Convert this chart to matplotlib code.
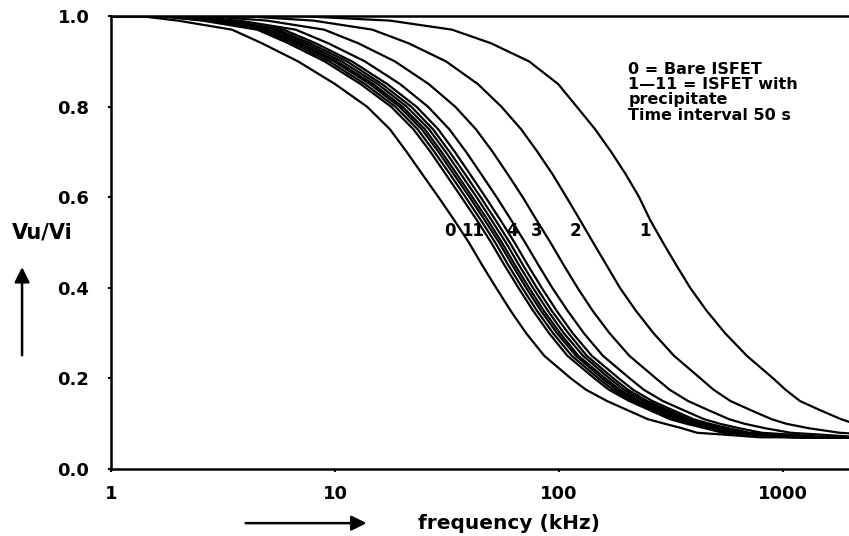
import numpy as np
import matplotlib.pyplot as plt
from matplotlib.patches import FancyArrowPatch

# response levels Vu/Vi (shared by all curves)
levels = [1.0, 0.99, 0.97, 0.94, 0.90, 0.85, 0.80, 0.75, 0.70, 0.65,
          0.60, 0.55, 0.50, 0.45, 0.40, 0.35, 0.30, 0.25, 0.20, 0.175,
          0.15, 0.13, 0.11, 0.10, 0.09, 0.08, 0.075, 0.07]

# frequency (kHz) where each curve reaches the level above
freq_0 = [1.35, 1.99, 3.47, 4.72, 6.84, 10.0, 13.9, 17.6, 20.9, 24.6,
          29.0, 34.0, 39.6, 45.4, 52.4, 60.7, 71.3, 85.9, 113, 132,
          164, 202, 249, 296, 354, 413, 580, 789]
freq_1 = [6.98, 17.6, 33.3, 49.7, 73.5, 99.1, 120, 145, 171, 199,
          228, 255, 291, 334, 385, 455, 551, 689, 904, 1026,
          1191, 1462, 1816, 2084, 2710, 4090, 6209, 9290]
freq_2 = [3.86, 8.02, 14.7, 21.3, 31.3, 43.4, 55.3, 67.8, 80.2, 93.8,
          108, 124, 142, 163, 187, 220, 264, 326, 428, 490,
          583, 717, 889, 1032, 1303, 1791, 2642, 3820]
freq_3 = [2.69, 4.97, 8.95, 12.7, 18.5, 26.2, 34.4, 42.6, 50.6, 59.2,
          68.9, 79.3, 91.6, 105, 121, 141, 168, 206, 271, 312,
          377, 464, 574, 672, 832, 1081, 1570, 2223]
freq_4 = [2.17, 3.74, 6.68, 9.33, 13.6, 19.5, 26.0, 32.4, 38.5, 45.1,
          52.7, 61.1, 70.6, 81.0, 93.3, 109, 129, 157, 207, 239,
          291, 359, 444, 521, 638, 804, 1153, 1614]
freq_5 = [1.98, 3.32, 5.90, 8.20, 11.9, 17.1, 23.1, 28.9, 34.3, 40.2,
          47.0, 54.7, 63.3, 72.6, 83.7, 97.4, 115, 140, 185, 214,
          261, 322, 398, 468, 571, 708, 1012, 1409]
freq_6 = [1.90, 3.15, 5.57, 7.74, 11.3, 16.2, 21.9, 27.4, 32.5, 38.2,
          44.7, 52.0, 60.3, 69.1, 79.6, 92.6, 110, 133, 175, 203,
          248, 306, 378, 446, 543, 668, 953, 1324]
freq_7 = [1.84, 3.01, 5.33, 7.38, 10.7, 15.5, 20.9, 26.3, 31.2, 36.6,
          42.9, 49.9, 57.9, 66.3, 76.5, 89.0, 105, 128, 168, 195,
          239, 295, 364, 429, 521, 638, 910, 1261]
freq_8 = [1.78, 2.88, 5.09, 7.05, 10.2, 14.8, 20.0, 25.2, 29.9, 35.1,
          41.1, 48.0, 55.6, 63.7, 73.5, 85.4, 101, 122, 161, 187,
          229, 283, 350, 412, 500, 610, 867, 1200]
freq_9 = [1.74, 2.79, 4.92, 6.79, 9.89, 14.3, 19.4, 24.4, 29.0, 34.0,
          39.9, 46.5, 54.0, 61.9, 71.3, 82.9, 97.9, 119, 156, 181,
          223, 275, 340, 400, 485, 589, 838, 1156]
freq_10 = [1.68, 2.67, 4.71, 6.49, 9.42, 13.6, 18.6, 23.4, 27.8, 32.7,
           38.3, 44.7, 51.9, 59.4, 68.5, 79.6, 94.0, 114, 150, 174,
           214, 264, 326, 385, 466, 562, 798, 1102]
freq_11 = [1.63, 2.56, 4.50, 6.19, 8.99, 13.0, 17.8, 22.4, 26.7, 31.3,
           36.7, 42.9, 49.8, 57.1, 65.9, 76.5, 90.2, 109, 144, 167,
           206, 254, 313, 370, 448, 538, 760, 1047]

floor_level = 0.07
floor_end = 3000

curve_labels = ['0', '11', '4', '3', '2', '1']
label_freqs = [32.6, 41.3, 61.9, 79.9, 119, 241]

legend_lines = ['0 = Bare ISFET', '1\u201411 = ISFET with', 'precipitate',
                'Time interval 50 s']

curves = [freq_0, freq_1, freq_2, freq_3, freq_4, freq_5, freq_6,
          freq_7, freq_8, freq_9, freq_10, freq_11]

plt.rcParams['font.family'] = ['DejaVu Sans']
plt.rcParams['font.weight'] = 'bold'

fig = plt.figure(figsize=(8.49, 5.36), dpi=100)
ax = fig.add_axes([0.1307, 0.125, 0.8693, 0.845])

for fr in curves:
    x = [1.0] + fr
    y = [1.0] + levels
    if fr[-1] < floor_end:
        x = x + [floor_end]
        y = y + [floor_level]
    ax.plot(x, y, color='black', lw=1.6, solid_joinstyle='round')

ax.set_xscale('log')
ax.set_xlim(1, 1970)
ax.set_ylim(0, 1.0)

ax.set_xticks([1, 10, 100, 1000])
ax.set_xticklabels(['1', '10', '100', '1000'])
ax.xaxis.set_minor_locator(plt.NullLocator())
ax.set_yticks([0.0, 0.2, 0.4, 0.6, 0.8, 1.0])
ax.set_yticklabels(['0.0', '0.2', '0.4', '0.6', '0.8', '1.0'])
ax.tick_params(axis='both', labelsize=13, length=2.5, width=1.5,
               direction='out')
ax.tick_params(axis='y', pad=13)
ax.tick_params(axis='x', pad=9)

for s in ['left', 'bottom', 'top']:
    ax.spines[s].set_linewidth(1.8)
ax.spines['right'].set_visible(False)

# curve numbers
for lab, f in zip(curve_labels, label_freqs):
    ax.text(f, 0.525, lab, fontsize=12, fontweight='bold',
            ha='center', va='center')

ax.text(0.701, 0.899, '\n'.join(legend_lines), transform=ax.transAxes,
        fontsize=11.5, fontweight='bold', va='top', ha='left',
        linespacing=1.02)

# axis labels with arrows
fig.text(0.014, 0.567, 'Vu/Vi', fontsize=15, fontweight='bold',
         ha='left', va='center')
fig.text(0.60, 0.024, 'frequency (kHz)', fontsize=14.5, fontweight='bold',
         ha='center', va='center')
fig.add_artist(FancyArrowPatch(
    (0.026, 0.332), (0.026, 0.507), transform=fig.transFigure,
    arrowstyle='-|>,head_length=6,head_width=3', lw=1.8, color='black',
    mutation_scale=1.5))
fig.add_artist(FancyArrowPatch(
    (0.286, 0.024), (0.435, 0.024), transform=fig.transFigure,
    arrowstyle='-|>,head_length=6,head_width=3', lw=1.8, color='black',
    mutation_scale=1.5))

fig.savefig('out.png', dpi=100)
